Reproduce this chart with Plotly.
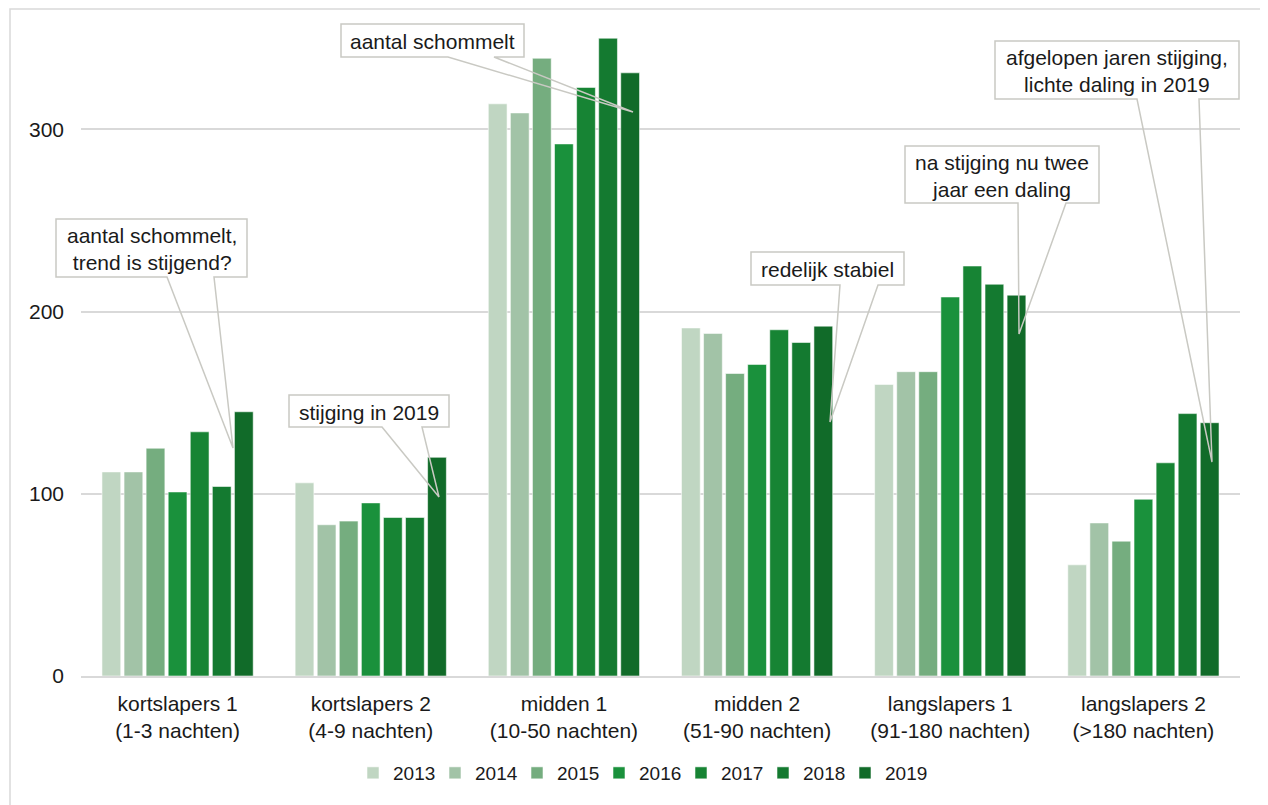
import plotly.graph_objects as go

categories = [
    "kortslapers 1<br>(1-3 nachten)",
    "kortslapers 2<br>(4-9 nachten)",
    "midden 1<br>(10-50 nachten)",
    "midden 2<br>(51-90 nachten)",
    "langslapers 1<br>(91-180 nachten)",
    "langslapers 2<br>(>180 nachten)",
]
years = ["2013", "2014", "2015", "2016", "2017", "2018", "2019"]
v2013 = [112, 106, 314, 191, 160, 61]
v2014 = [112, 83, 309, 188, 167, 84]
v2015 = [125, 85, 339, 166, 167, 74]
v2016 = [101, 95, 292, 171, 208, 97]
v2017 = [134, 87, 323, 190, 225, 117]
v2018 = [104, 87, 350, 183, 215, 144]
v2019 = [145, 120, 331, 192, 209, 139]
series = [v2013, v2014, v2015, v2016, v2017, v2018, v2019]
colors = ["#c0d6c2", "#a2c3a7", "#75ad7f", "#1a913c", "#178434", "#147a30", "#116b29"]
y_ticks = [0, 100, 200, 300]

callout_texts = [
    "aantal schommelt,<br>trend is stijgend?",
    "stijging in 2019",
    "aantal schommelt",
    "redelijk stabiel",
    "na stijging nu twee<br>jaar een daling",
    "afgelopen jaren stijging,<br>lichte daling in 2019",
]

W, H = 1268, 805
OFF = 8  # page body margin
# plot area in screen pixels
SL, SR, ST, SB = 81, 1240, 20, 676
L, R, T, B = SL - OFF, SR - OFF, ST - OFF, SB - OFF


def px(x):
    return (x - SL) / (SR - SL)


def py(y):
    return (SB - y) / (SB - ST)


FONT = "Liberation Sans, Arial, sans-serif"
TXT = "#1a1a1a"

fig = go.Figure()
for yr, vals, col in zip(years, series, colors):
    fig.add_trace(go.Bar(
        name=yr, x=categories, y=vals,
        marker=dict(color=col, line=dict(color="rgba(255,255,255,0.55)", width=1)),
    ))

# callout geometry (screen pixels): box l,t,r,b ; wedge base x1,x2 ; tip
callouts = [
    ((56, 219, 247, 277), (167, 214), (233, 448)),
    ((289, 395, 449, 427), (382, 422), (439, 497)),
    ((341, 24, 524, 57), (448, 494), (633, 112)),
    ((751, 252, 904, 285), (840, 878), (830, 422)),
    ((905, 146, 1099, 203), (1018, 1066), (1019, 334)),
    ((995, 41, 1239, 99), (1137, 1199), (1212, 462)),
]
shapes = []
annotations = []
for (l, t, r, b), (w1, w2), (tx, ty) in callouts:
    pts = [(l, t), (r, t), (r, b), (w2, b), (tx, ty), (w1, b), (l, b)]
    path = "M " + " L ".join(f"{px(a):.5f},{py(c):.5f}" for a, c in pts) + " Z"
    shapes.append(dict(type="path", xref="paper", yref="paper", path=path,
                       line=dict(color="#c9c9c3", width=1.5),
                       fillcolor="rgba(0,0,0,0)", layer="above"))
for text, ((l, t, r, b), _, _) in zip(callout_texts, callouts):
    annotations.append(dict(text=text, xref="paper", yref="paper",
                            x=px((l + r) / 2), y=py((t + b) / 2 + 1),
                            xanchor="center", yanchor="middle", showarrow=False,
                            font=dict(family=FONT, size=21, color=TXT)))

# outer chart border
shapes.append(dict(type="rect", xref="paper", yref="paper",
                   x0=px(10), y0=py(9), x1=px(1300), y1=py(840),
                   line=dict(color="#d9d9d9", width=1.5), layer="below"))

fig.update_layout(
    width=W, height=H,
    margin=dict(l=L, r=W - R, t=T, b=H - B),
    paper_bgcolor="white", plot_bgcolor="white",
    barmode="group", bargap=0.2, bargroupgap=0.15,
    font=dict(family=FONT, size=21, color=TXT),
    showlegend=True,
    legend=dict(orientation="h", x=px(640), xanchor="center", y=py(773), yanchor="middle",
                font=dict(family=FONT, size=19, color=TXT), itemwidth=30,
                entrywidth=37, traceorder="normal"),
    shapes=shapes, annotations=annotations,
)
fig.update_yaxes(range=[0, 360], tickvals=y_ticks, showgrid=True, gridcolor="#d9d9d9",
                 gridwidth=1.5, zeroline=False, showline=False, ticks="",
                 ticklabelstandoff=16, tickfont=dict(family=FONT, size=21, color=TXT))
fig.update_xaxes(showline=True, linecolor="#d9d9d9", linewidth=1.5, ticks="",
                 ticklabelstandoff=8, tickfont=dict(family=FONT, size=21, color=TXT))

fig.write_html("out.html")
